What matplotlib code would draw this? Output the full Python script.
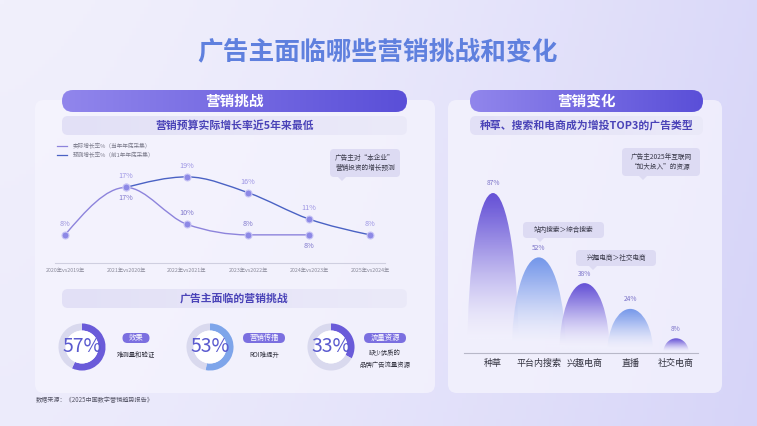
import numpy as np
import matplotlib
matplotlib.use("Agg")
import matplotlib.pyplot as plt
from matplotlib.patches import FancyBboxPatch, Ellipse, Polygon, Circle, PathPatch
from matplotlib.path import Path
from matplotlib.colors import to_rgb

plt.rcParams['font.family'] = ['Noto Sans CJK SC', 'DejaVu Sans']

# ---- data ----
years = ["2020年vs2019年", "2021年vs2020年", "2022年vs2021年",
         "2023年vs2022年", "2024年vs2023年", "2025年vs2024年"]
actual_idx = [0, 1, 2, 3, 4]
actual = [8, 17, 10, 8, 8]
pred_idx = [1, 2, 3, 4, 5]
predicted = [17, 19, 16, 11, 8]

challenge_pct = [57, 53, 33]
challenge_tag = ["效果", "营销传播", "流量资源"]
challenge_desc = ["难测量和验证", "ROI难提升", "缺少优质的\n品牌广告流量资源"]

ad_types = ["种草", "平台内搜索", "兴趣电商", "直播", "社交电商"]
ad_share = [87, 52, 38, 24, 8]

W, H = 757, 426
fig = plt.figure(figsize=(W / 100, H / 100), dpi=100)
bg = fig.add_axes([0, 0, 1, 1])
bg.set_xlim(0, W)
bg.set_ylim(H, 0)
bg.axis("off")


def rect(x0, y0, w, h):
    return [x0 / W, 1 - (y0 + h) / H, w / W, h / H]


def mix(c0, c1, t):
    c0, c1 = np.array(to_rgb(c0)), np.array(to_rgb(c1))
    t = np.asarray(t)[..., None]
    return (1 - t) * c0 + t * c1


# background gradient
gx = np.linspace(0, 1, 200)
gy = np.linspace(0, 1, 120)
tx, ty = np.meshgrid(gx, gy)
bg_img = mix("#f1f0fc", "#d3d1f8", np.clip(0.75 * tx ** 1.5 + 0.15 * ty, 0, 1))
bg.imshow(bg_img, extent=(0, W, H, 0), aspect="auto", zorder=0)


def grad_box(x0, y0, w, h, c0, c1, r, zorder=2, horizontal=True):
    p = FancyBboxPatch((x0, y0), w, h, boxstyle=f"round,pad=0,rounding_size={r}",
                       fc="none", ec="none", zorder=zorder)
    bg.add_patch(p)
    t = np.linspace(0, 1, 256)
    cols = mix(c0, c1, t)
    arr = cols[None, :, :] if horizontal else cols[:, None, :]
    im = bg.imshow(arr, extent=(x0, x0 + w, y0 + h, y0), aspect="auto",
                   zorder=zorder, interpolation="bilinear")
    im.set_clip_path(p)


def callout(x0, y0, w, h, text, tip_x, fs=5.0):
    bg.add_patch(FancyBboxPatch((x0, y0), w, h, boxstyle="round,pad=0,rounding_size=4",
                                fc="#dddbf3", ec="none", zorder=6))
    bg.add_patch(Polygon([[tip_x - 4, y0 + h], [tip_x + 4, y0 + h], [tip_x, y0 + h + 4]],
                         closed=True, fc="#dddbf3", ec="none", zorder=6))
    bg.text(x0 + w / 2, y0 + h / 2, text, ha="center", va="center", fontsize=fs,
            color="#3a3a4a", zorder=7, linespacing=1.3)


# panels
for x0, w in [(35, 400), (448, 274)]:
    bg.add_patch(FancyBboxPatch((x0, 100), w, 293, boxstyle="round,pad=0,rounding_size=9",
                                fc="#f6f5fe", ec="none", alpha=0.75, zorder=1))

# title
bg.text(378, 52, "广告主面临哪些营销挑战和变化", ha="center", va="center",
        fontsize=18.5, fontweight="bold", color="#5f80de", zorder=5)

# headers
grad_box(62, 90, 345, 22, "#9186ec", "#5a4fd8", 11, zorder=3)
bg.text(234, 101, "营销挑战", ha="center", va="center", fontsize=10.5,
        fontweight="bold", color="white", zorder=5)
grad_box(470, 90, 233, 22, "#9186ec", "#5a4fd8", 11, zorder=3)
bg.text(586, 101, "营销变化", ha="center", va="center", fontsize=10.5,
        fontweight="bold", color="white", zorder=5)

# subtitle bars
for x0, w, y0, txt in [(62, 345, 116, "营销预算实际增长率近5年来最低"),
                       (470, 233, 116, "种草、搜索和电商成为增投TOP3的广告类型"),
                       (62, 345, 289, "广告主面临的营销挑战")]:
    grad_box(x0, y0, w, 19, "#e2e0f6", "#ebeaf9", 6, zorder=3)
    bg.text(x0 + w / 2, y0 + 9.5, txt, ha="center", va="center", fontsize=7.8,
            fontweight="bold", color="#4a43b8", zorder=5)

# ---- line chart ----
def monotone_path(xs, ys):
    xs = np.asarray(xs, float)
    ys = np.asarray(ys, float)
    n = len(xs)
    h = np.diff(xs)
    s = np.diff(ys) / h
    t = np.zeros(n)
    for i in range(1, n - 1):
        p = (s[i - 1] * h[i] + s[i] * h[i - 1]) / (h[i - 1] + h[i])
        t[i] = (np.sign(s[i - 1]) + np.sign(s[i])) * min(abs(s[i - 1]), abs(s[i]), 0.5 * abs(p))
    t[0] = (3 * s[0] - t[1]) / 2
    t[-1] = (3 * s[-1] - t[-2]) / 2
    verts = [(xs[0], ys[0])]
    codes = [Path.MOVETO]
    for i in range(n - 1):
        d = h[i] / 3
        verts += [(xs[i] + d, ys[i] + d * t[i]), (xs[i + 1] - d, ys[i + 1] - d * t[i + 1]),
                  (xs[i + 1], ys[i + 1])]
        codes += [Path.CURVE4] * 3
    return Path(verts, codes)


ax = fig.add_axes(rect(55, 150, 330, 113))
ax.set_facecolor("none")
ax.set_xlim(-0.164, 5.246)
ax.set_ylim(2.66, 24.1)
for sp in ["top", "right", "left"]:
    ax.spines[sp].set_visible(False)
ax.spines["bottom"].set_color("#cfcfe0")
ax.spines["bottom"].set_linewidth(0.8)
ax.set_yticks([])
ax.set_xticks(range(len(years)))
ax.set_xticklabels(years, fontsize=3.8, color="#8a8a9a")
ax.tick_params(axis="x", length=0, pad=3.5)

ax.add_patch(PathPatch(monotone_path(pred_idx, predicted), fc="none", ec="#4a62c4", lw=1.0, zorder=3))
ax.add_patch(PathPatch(monotone_path(actual_idx, actual), fc="none", ec="#8d84dc", lw=1.0, zorder=3))
ax.plot(pred_idx, predicted, "o", ms=5, mfc="#8d89e6", mec="#c9c6f5", mew=0.8, zorder=4)
ax.plot(actual_idx, actual, "o", ms=5, mfc="#8d89e6", mec="#c9c6f5", mew=0.8, zorder=4)

actual_side = [1, -1, 1, 1, -1]
for i, v, sd in zip(actual_idx, actual, actual_side):
    ax.annotate(f"{v}%", (i, v), xytext=(0, 5 * sd), textcoords="offset points",
                ha="center", va="bottom" if sd > 0 else "top", fontsize=5.2,
                color="#7f77cc" if i else "#9a92dc", zorder=5)
for i, v in zip(pred_idx, predicted):
    ax.annotate(f"{v}%", (i, v), xytext=(0, 5), textcoords="offset points",
                ha="center", va="bottom", fontsize=5.2, color="#9d95e4", zorder=5)

# legend
bg.plot([57, 67], [146, 146], color="#8d84dc", lw=0.9, zorder=5)
bg.plot([57, 67], [155, 155], color="#4a62c4", lw=0.9, zorder=5)
bg.text(73, 146, "实际增长率%（当年年底采集）", va="center", fontsize=4.1, color="#7a7a8a", zorder=5)
bg.text(73, 155, "预测增长率%（前1年年底采集）", va="center", fontsize=4.1, color="#7a7a8a", zorder=5)

callout(330, 149, 70, 28, "广告主对“本企业”\n营销投资的增长预测", 342, fs=4.8)

# ---- donuts ----
donut_centers = [82, 210, 331]
arc_colors = ["#6a5bd9", "#7ea5ea", "#6a5bd9"]
for cx, pct, col, tag, desc in zip(donut_centers, challenge_pct, arc_colors,
                                   challenge_tag, challenge_desc):
    dax = fig.add_axes(rect(cx - 24, 347 - 24, 48, 48))
    dax.pie([pct, 100 - pct], startangle=90, counterclock=False,
            colors=[col, "#d9d9ee"], wedgeprops=dict(width=0.3, edgecolor="none"))
    dax.add_patch(Circle((0, 0), 0.7, fc="white", ec="none"))
    dax.set_xlim(-1.02, 1.02)
    dax.set_ylim(-1.02, 1.02)
    dax.set_aspect("equal")
    dax.text(0, 0, f"{pct}%", ha="center", va="center", fontsize=14, color="#5a5acf",
             clip_on=False, zorder=5)
    tx = cx + 54
    tw = 12 + 7.5 * len(tag)
    bg.add_patch(FancyBboxPatch((tx - tw / 2, 333), tw, 10, boxstyle="round,pad=0,rounding_size=5",
                                fc="#7b6fe0", ec="none", zorder=5))
    bg.text(tx, 338, tag, ha="center", va="center", fontsize=5.3, color="white", zorder=6)
    bg.text(tx, 355 if "\n" not in desc else 359, desc, ha="center", va="center",
            fontsize=4.6, color="#333340", zorder=6, linespacing=1.6)

bg.text(36, 400, "数据来源：《2025中国数字营销趋势报告》", va="center", fontsize=4.4,
        color="#555566", zorder=5)

# ---- bell chart ----
bx = fig.add_axes(rect(464, 150, 234, 203))
bx.set_facecolor("none")
for sp in ["top", "right", "left"]:
    bx.spines[sp].set_visible(False)
bx.spines["bottom"].set_color("#b8b8c8")
bx.spines["bottom"].set_linewidth(0.8)
bx.spines["bottom"].set_zorder(6)
bx.set_yticks([])
bx.set_xticks(range(len(ad_types)))
bx.set_xticklabels(ad_types, fontsize=6.5, color="#333340")
bx.tick_params(axis="x", length=0, pad=4)

half_w = [0.56, 0.59, 0.55, 0.50, 0.28]
bell_cols = ["#6450d6", "#7497ea", "#6450d6", "#7497ea", "#6450d6"]
for i, (v, hw, c) in enumerate(zip(ad_share, half_w, bell_cols)):
    el = Ellipse((i, 0), 2 * hw, 2 * v, fc="none", ec="none", zorder=2 + i)
    bx.add_patch(el)
    tt = np.linspace(0, 1, 200)[:, None]
    rgba = np.zeros((200, 1, 4))
    rgba[..., :3] = mix(c, "#f4f3fd", np.clip(tt * 1.1, 0, 1))
    rgba[..., 3] = np.clip(1.0 - tt ** 2 * 0.9, 0, 1)
    im = bx.imshow(rgba, extent=(i - hw, i + hw, 0, v), aspect="auto", zorder=2 + i,
                   interpolation="bilinear", origin="upper")
    im.set_clip_path(el)
    bx.annotate(f"{v}%", (i, v), xytext=(0, 4), textcoords="offset points",
                ha="center", va="bottom", fontsize=4.8, color="#7a72c8", zorder=8)
bx.set_xlim(-0.634, 4.48)
bx.set_ylim(0, 110.4)

callout(622, 148, 78, 28, "广告主2025年互联网\n“加大投入”的资源", 643, fs=4.8)
callout(523, 222, 81, 16, "站内搜索＞综合搜索", 540, fs=4.8)
callout(576, 250, 80, 16, "兴趣电商＞社交电商", 593, fs=4.8)

fig.savefig("out.png", dpi=100)
